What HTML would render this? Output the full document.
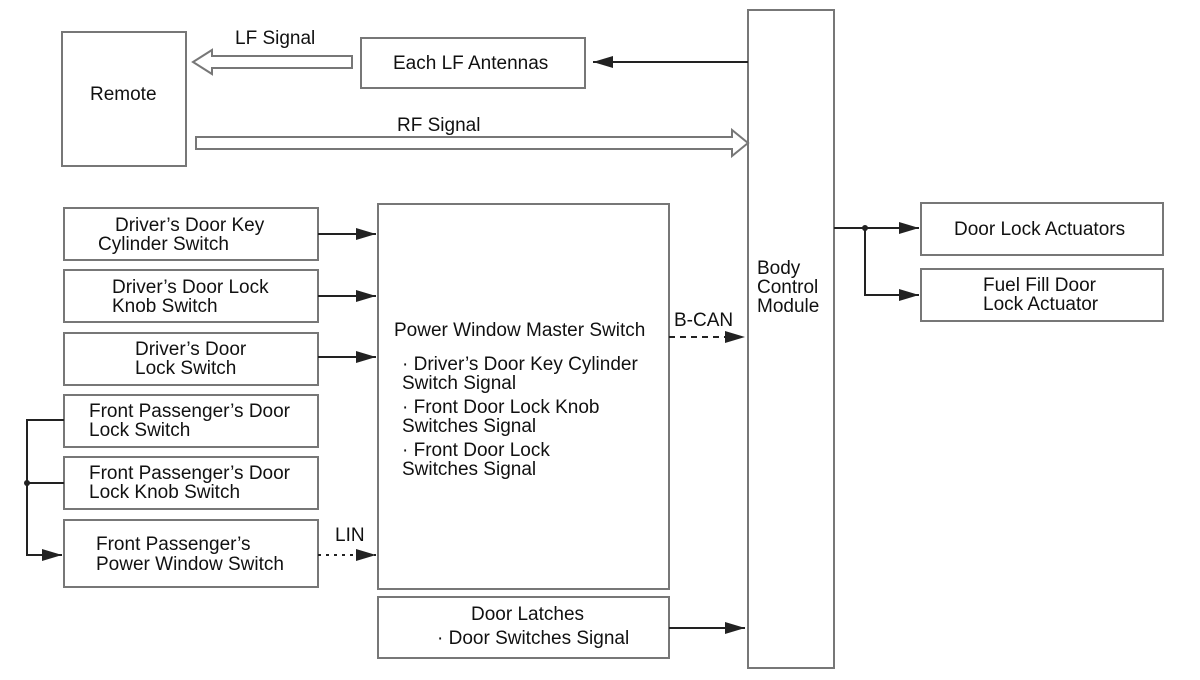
<!DOCTYPE html>
<html><head><meta charset="utf-8"><style>body{margin:0;background:#fff}svg{display:block}text{font-family:"Liberation Sans",Arial,sans-serif;font-size:19px;fill:#111}</style></head><body>
<svg width="1200" height="680" viewBox="0 0 1200 680" xmlns="http://www.w3.org/2000/svg">
<defs>
<marker id="b" markerWidth="20" markerHeight="12" refX="20" refY="6" orient="auto" markerUnits="userSpaceOnUse"><path d="M0,0 L20,6 L0,12z" fill="#222"/></marker></defs>
<g fill="none" stroke="#777" stroke-width="2">
<rect x="62" y="32" width="124" height="134"/>
<rect x="361" y="38" width="224" height="50"/>
<rect x="748" y="10" width="86" height="658"/>
<rect x="64" y="208" width="254" height="52"/>
<rect x="64" y="270" width="254" height="52"/>
<rect x="64" y="333" width="254" height="52"/>
<rect x="64" y="395" width="254" height="52"/>
<rect x="64" y="457" width="254" height="52"/>
<rect x="64" y="520" width="254" height="67"/>
<rect x="378" y="204" width="291" height="385"/>
<rect x="378" y="597" width="291" height="61"/>
<rect x="921" y="203" width="242" height="52"/>
<rect x="921" y="269" width="242" height="52"/>
<path d="M352,56 H212 V50 L193,62 L212,74 V68 H352 Z"/>
<path d="M196,137 H732 V130 L748,143 L732,156 V149 H196 Z"/>
</g>
<g stroke="#222" stroke-width="2" fill="none">
<line x1="748" y1="62" x2="593" y2="62" marker-end="url(#b)"/>
<line x1="318" y1="234" x2="376" y2="234" marker-end="url(#b)"/>
<line x1="318" y1="296" x2="376" y2="296" marker-end="url(#b)"/>
<line x1="318" y1="357" x2="376" y2="357" marker-end="url(#b)"/>
<line x1="318" y1="555" x2="376" y2="555" stroke-dasharray="3,5" marker-end="url(#b)"/>
<line x1="669" y1="337" x2="745" y2="337" stroke-dasharray="6,5" marker-end="url(#b)"/>
<line x1="669" y1="628" x2="745" y2="628" marker-end="url(#b)"/>
<path d="M834,228 H919" marker-end="url(#b)"/>
<path d="M865,228 V295 H919" marker-end="url(#b)"/>
<path d="M64,420 H27 V555 H62" marker-end="url(#b)"/>
<path d="M64,483 H27"/>
</g>
<circle cx="865" cy="228" r="3" fill="#222"/><circle cx="27" cy="483" r="3" fill="#222"/>
<text x="235" y="44">LF Signal</text>
<text x="90" y="100">Remote</text>
<text x="393" y="69">Each LF Antennas</text>
<text x="397" y="131">RF Signal</text>
<text x="757" y="274">Body</text><text x="757" y="293">Control</text><text x="757" y="312">Module</text>
<text x="115" y="231">Driver’s Door Key</text><text x="98" y="250">Cylinder Switch</text>
<text x="112" y="293">Driver’s Door Lock</text><text x="112" y="312">Knob Switch</text>
<text x="135" y="355">Driver’s Door</text><text x="135" y="374">Lock Switch</text>
<text x="89" y="417">Front Passenger’s Door</text><text x="89" y="436">Lock Switch</text>
<text x="89" y="479">Front Passenger’s Door</text><text x="89" y="498">Lock Knob Switch</text>
<text x="96" y="550">Front Passenger’s</text><text x="96" y="570">Power Window Switch</text>
<text x="335" y="541">LIN</text>
<text x="674" y="326">B-CAN</text>
<text x="394" y="336">Power Window Master Switch</text>
<text x="402" y="370">· Driver’s Door Key Cylinder</text><text x="402" y="389">Switch Signal</text>
<text x="402" y="413">· Front Door Lock Knob</text><text x="402" y="432">Switches Signal</text>
<text x="402" y="456">· Front Door Lock</text><text x="402" y="475">Switches Signal</text>
<text x="471" y="620">Door Latches</text><text x="437" y="644">· Door Switches Signal</text>
<text x="954" y="235">Door Lock Actuators</text>
<text x="983" y="291">Fuel Fill Door</text><text x="983" y="310">Lock Actuator</text>
</svg></body></html>
